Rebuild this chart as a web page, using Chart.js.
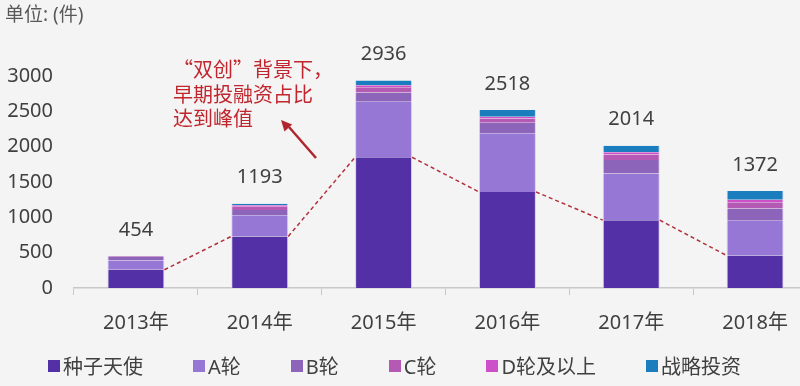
<!DOCTYPE html>
<html>
<head>
<meta charset="utf-8">
<script src="https://cdn.jsdelivr.net/npm/chart.js@4"></script>
<style>
  html, body { margin: 0; padding: 0; overflow: hidden; width: 800px; height: 386px; background: #f4f4f5; }
  #wrap { position: relative; width: 800px; height: 386px; }
  #unit { position: absolute; left: 5px; top: -1px; font: 19px "Noto Sans", "Noto Sans CJK SC", sans-serif; color: #595959; }
  #legend { position: absolute; left: 48px; top: 351px; display: flex; gap: 50px; font: 20px "Noto Sans", "Noto Sans CJK SC", sans-serif; color: #404040; }
  #legend span.item { display: flex; align-items: center; }
  #legend i { display: inline-block; width: 12px; height: 12px; margin-right: 3px; }
</style>
</head>
<body>
<div id="wrap">
  <canvas id="chart" width="818" height="386"></canvas>
  <div id="unit">单位: (件)</div>
  <div id="legend"></div>
</div>
<script>
const years = ['2013年', '2014年', '2015年', '2016年', '2017年', '2018年'];
const seedAngel = [258, 730, 1850, 1360, 960, 460];
const roundA = [130, 300, 785, 830, 660, 490];
const roundB = [50, 75, 130, 150, 190, 175];
const roundC = [10, 45, 75, 60, 80, 90];
const roundD = [3, 20, 30, 25, 30, 35];
const strategic = [3, 23, 66, 93, 94, 122];
const totals = [454, 1193, 2936, 2518, 2014, 1372];

const seriesNames = ['种子天使', 'A轮', 'B轮', 'C轮', 'D轮及以上', '战略投资'];
const seriesColors = ['#5430a6', '#9677d6', '#8c64b9', '#b45ab4', '#cd50c8', '#197dbe'];
const seriesData = [seedAngel, roundA, roundB, roundC, roundD, strategic];

const font = '"Noto Sans", "Noto Sans CJK SC", sans-serif';
const cjkFont = '"Noto Sans CJK SC", sans-serif';

// totals above bars, dashed lines between seed tops, and the red note
const extras = {
    id: 'extras',
    afterDatasetsDraw(c) {
        const ctx = c.ctx;
        const seedMeta = c.getDatasetMeta(0);
        const y = c.scales.y;

        // dashed series lines
        ctx.save();
        ctx.strokeStyle = '#b0303c';
        ctx.lineWidth = 1.5;
        ctx.setLineDash([4, 3]);
        for (let i = 0; i < seedMeta.data.length - 1; i++) {
            const a = seedMeta.data[i], b = seedMeta.data[i + 1];
            ctx.beginPath();
            ctx.moveTo(a.x + a.width / 2, a.y);
            ctx.lineTo(b.x - b.width / 2, b.y);
            ctx.stroke();
        }
        ctx.restore();

        // totals
        ctx.save();
        ctx.font = '20px ' + font;
        ctx.fillStyle = '#404040';
        ctx.textAlign = 'center';
        ctx.textBaseline = 'middle';
        totals.forEach((t, i) => {
            ctx.fillText(String(t), seedMeta.data[i].x, y.getPixelForValue(t) - 26);
        });
        ctx.restore();

        // note
        ctx.save();
        ctx.font = '20px ' + cjkFont;
        ctx.fillStyle = '#c0262d';
        ctx.textAlign = 'left';
        ctx.textBaseline = 'middle';
        ctx.fillText('“双创”背景下，', 173, 69);
        ctx.fillText('早期投融资占比', 173, 94);
        ctx.fillText('达到峰值', 173, 118);

        ctx.strokeStyle = '#b0262c';
        ctx.fillStyle = '#b0262c';
        ctx.lineWidth = 2.5;
        ctx.beginPath();
        ctx.moveTo(316, 158);
        ctx.lineTo(289, 127);
        ctx.stroke();
        const ang = Math.atan2(120 - 158, 281 - 316);
        ctx.beginPath();
        ctx.moveTo(281, 120);
        ctx.lineTo(281 - 12 * Math.cos(ang - 0.45), 120 - 12 * Math.sin(ang - 0.45));
        ctx.lineTo(281 - 12 * Math.cos(ang + 0.45), 120 - 12 * Math.sin(ang + 0.45));
        ctx.closePath();
        ctx.fill();
        ctx.restore();
    }
};

const chart = new Chart(document.getElementById('chart'), {
    type: 'bar',
    data: {
        labels: years,
        datasets: seriesData.map((d, i) => ({
            label: seriesNames[i],
            data: d,
            backgroundColor: seriesColors[i],
            borderColor: 'rgba(215,200,245,0.9)',
            borderWidth: { left: 1, right: 1, top: 0, bottom: 0 },
            borderSkipped: false,
            barPercentage: 0.46,
            categoryPercentage: 1
        }))
    },
    options: {
        responsive: false,
        animation: false,
        layout: { padding: { top: 76, right: 1, bottom: 0, left: 0 } },
        plugins: {
            legend: { display: false },
            tooltip: { enabled: false }
        },
        scales: {
            x: {
                stacked: true,
                afterFit: s => { s.height = 98; },
                grid: {
                    offset: true,
                    drawOnChartArea: false,
                    drawTicks: true,
                    tickLength: 7,
                    color: '#c8c8c8'
                },
                border: { display: true, color: '#c8c8c8', width: 1.5 },
                ticks: { padding: 16, color: '#404040', font: { size: 20, family: font } }
            },
            y: {
                stacked: true,
                min: 0,
                max: 3000,
                afterFit: s => { s.width = 74; },
                grid: { display: false, drawTicks: false },
                border: { display: false },
                ticks: {
                    stepSize: 500,
                    padding: 21,
                    color: '#404040',
                    font: { size: 20, family: font },
                    callback: v => String(v)
                }
            }
        }
    },
    plugins: [extras]
});

// legend built from the series
const legend = document.getElementById('legend');
seriesNames.forEach((n, i) => {
    const item = document.createElement('span');
    item.className = 'item';
    item.innerHTML = `<i style="background:${seriesColors[i]}"></i>${n}`;
    legend.appendChild(item);
});
</script>
</body>
</html>
